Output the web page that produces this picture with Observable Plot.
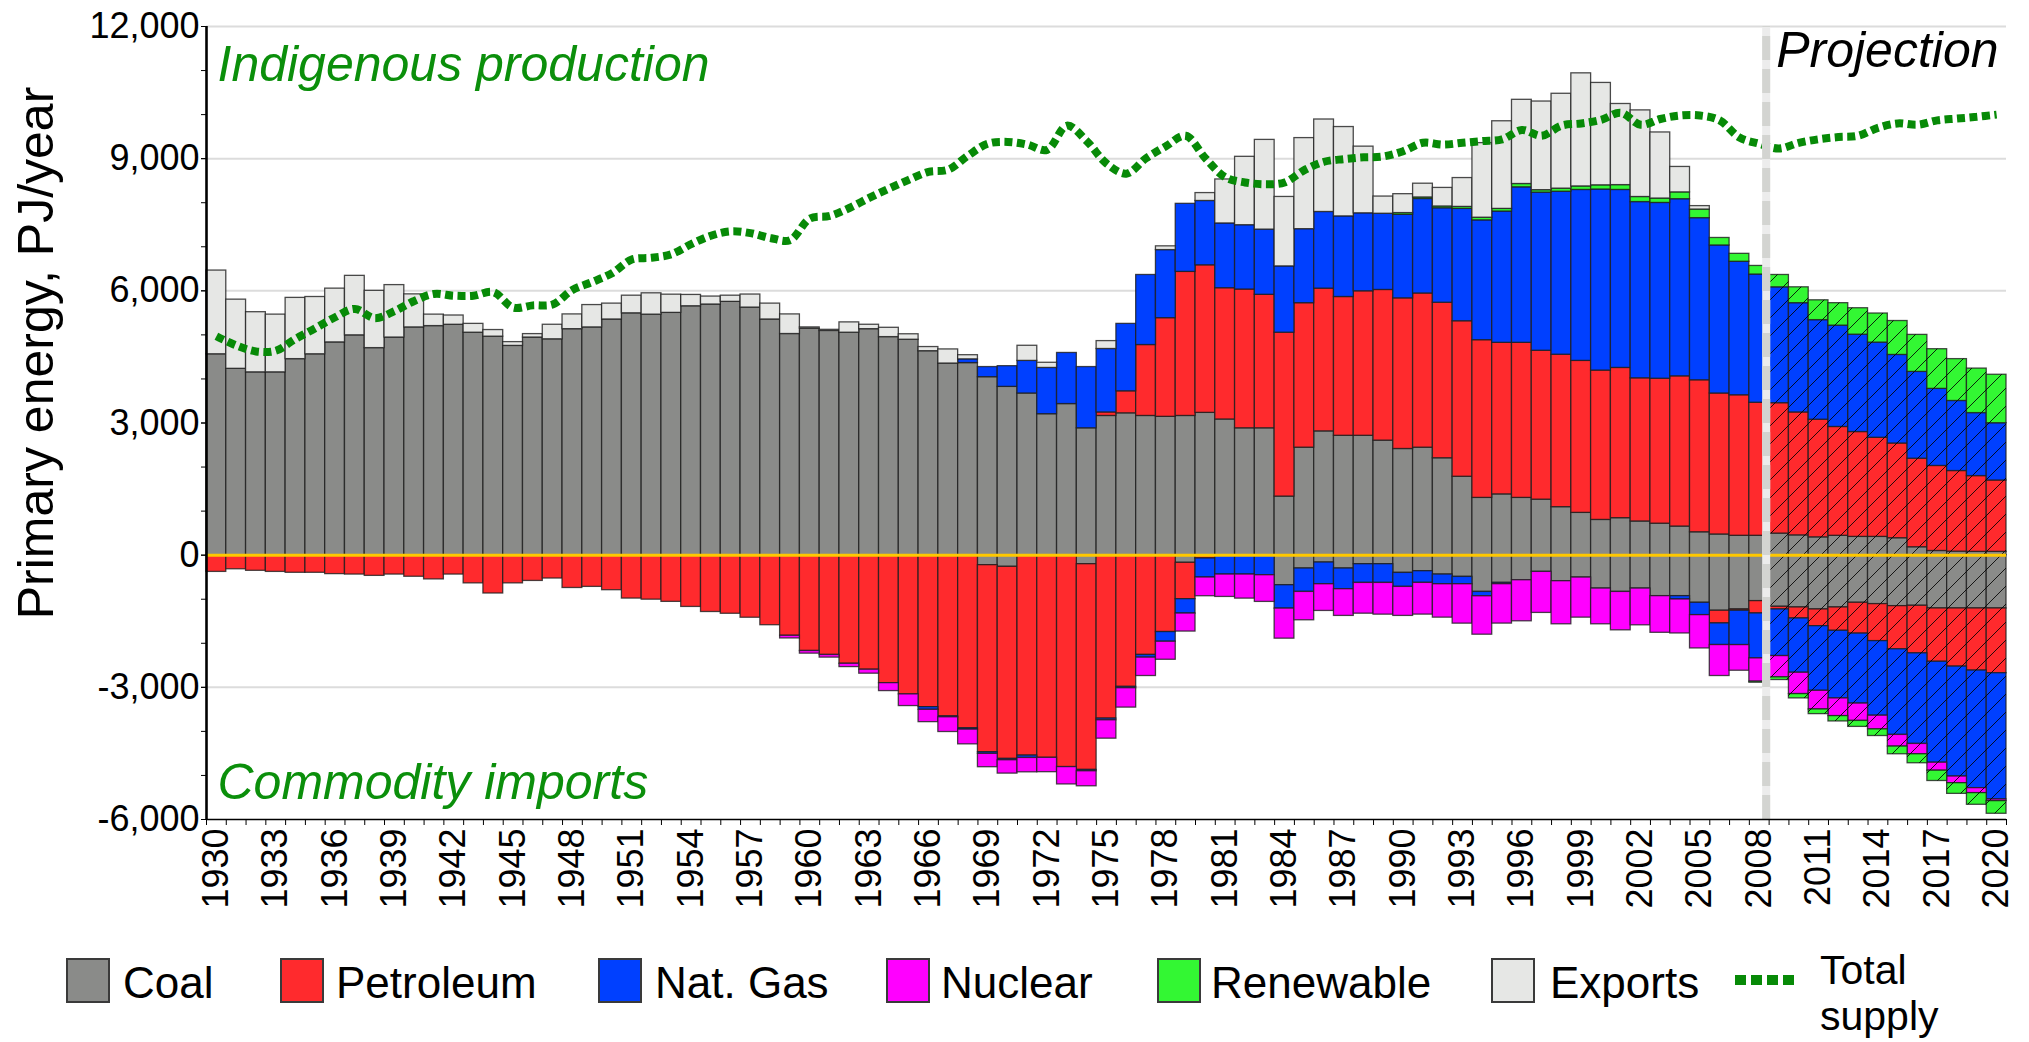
<!DOCTYPE html>
<html><head><meta charset="utf-8">
<script src="https://cdn.jsdelivr.net/npm/d3@7"></script>
<script src="https://cdn.jsdelivr.net/npm/@observablehq/plot@0.6"></script>
<style>
html,body{margin:0;padding:0;background:#fff;}
#wrap{position:relative;width:2029px;height:1042px;font-family:"Liberation Sans",Arial,sans-serif;overflow:hidden;}
#chart{position:absolute;left:0;top:0;}
.sw{position:absolute;box-sizing:border-box;border:2px solid #3a3a3a;}
.lt{position:absolute;font-size:44px;line-height:42px;color:#000;white-space:nowrap;}
.lt2{position:absolute;font-size:41px;line-height:46px;color:#000;white-space:nowrap;}
</style></head><body><div id="wrap"><div id="chart"></div></div>
<script>
// ---------- DATA (PJ/year), one value per year 1930..2020 ----------
const years = [1930,1931,1932,1933,1934,1935,1936,1937,1938,1939,1940,1941,1942,1943,1944,1945,1946,1947,1948,1949,
1950,1951,1952,1953,1954,1955,1956,1957,1958,1959,1960,1961,1962,1963,1964,1965,1966,1967,1968,1969,
1970,1971,1972,1973,1974,1975,1976,1977,1978,1979,1980,1981,1982,1983,1984,1985,1986,1987,1988,1989,
1990,1991,1992,1993,1994,1995,1996,1997,1998,1999,2000,2001,2002,2003,2004,2005,2006,2007,2008,2009,
2010,2011,2012,2013,2014,2015,2016,2017,2018,2019,2020];
const labelYears = [1930,1933,1936,1939,1942,1945,1948,1951,1954,1957,1960,1963,1966,1969,1972,1975,1978,1981,1984,1987,1990,1993,1996,1999,2002,2005,2008,2011,2014,2017,2020];
const yTicks = [-6000,-3000,0,3000,6000,9000,12000];
const yMinorTicks = [-6000,-5000,-4000,-3000,-2000,-1000,0,1000,2000,3000,4000,5000,6000,7000,8000,9000,10000,11000,12000];
const gridTicks = [-3000,3000,6000,9000,12000];
const projectionBoundary = 2008.35;

// Indigenous production (domestically used part)
const prodCoal = [4560,4230,4150,4150,4450,4560,4830,4990,4700,4940,5170,5200,5230,5050,4960,4750,4940,4900,5130,5170,
5350,5490,5460,5500,5650,5690,5750,5620,5350,5020,5140,5090,5050,5130,4950,4890,4630,4350,4360,4040,
3820,3670,3200,3430,2880,3160,3220,3160,3140,3160,3230,3080,2880,2880,1330,2440,2810,2710,2710,2600,
2410,2440,2200,1780,1300,1380,1300,1260,1090,960,800,840,765,715,650,520,470,440,440,490,
450,405,440,415,415,385,180,95,80,75,75];
const prodPetroleum = [0,0,0,0,0,0,0,0,0,0,0,0,0,0,0,0,0,0,0,0,
0,0,0,0,0,0,0,0,0,0,0,0,0,0,0,0,0,0,0,0,
0,0,0,0,0,80,500,1610,2240,3270,3350,2980,3150,3030,3720,3280,3240,3150,3280,3420,
3420,3500,3530,3530,3580,3440,3520,3380,3460,3450,3390,3410,3250,3290,3410,3450,3200,3190,3020,2960,
2790,2670,2470,2380,2250,2150,2010,1930,1830,1720,1620];
const prodGas = [0,0,0,0,0,0,0,0,0,0,0,0,0,0,0,0,0,0,0,0,
0,0,0,0,0,0,0,0,0,0,0,0,0,0,0,0,0,0,85,230,
470,740,1050,1160,1390,1440,1530,1590,1545,1545,1460,1470,1460,1480,1505,1680,1740,1830,1770,1730,
1895,2145,2145,2550,2720,2980,3530,3590,3700,3880,4110,4040,4000,3990,4020,3680,3360,3030,2910,2630,
2480,2260,2300,2210,2160,2010,1970,1750,1590,1430,1300];
const prodRenewable = [0,0,0,0,0,0,0,0,0,0,0,0,0,0,0,0,0,0,0,0,
0,0,0,0,0,0,0,0,0,0,0,0,0,0,0,0,0,0,0,0,
0,0,0,0,0,0,0,0,0,0,0,0,0,0,0,0,0,0,0,0,
40,35,40,45,60,60,75,55,70,80,95,110,115,100,155,195,170,180,195,280,
360,450,510,600,660,770,840,900,950,1010,1100];
const exportsPJ = [1900,1570,1365,1310,1390,1300,1220,1350,1300,1190,750,260,210,200,150,86,78,330,335,507,
360,400,484,413,257,180,140,296,360,445,30,25,234,100,211,124,94,320,94,0,
0,343,117,0,0,179,0,0,85,0,179,998,1552,2036,1576,2067,2099,2028,1513,390,
429,312,421,655,1693,1989,1911,2012,2153,2567,2324,1841,1966,1500,577,78,0,0,0,0,
0,0,0,0,0,0,0,0,0,0,0];

// Commodity imports (positive numbers, drawn below zero)
const impCoal = [0,0,0,0,0,0,0,0,0,0,0,0,0,0,0,0,0,0,0,0,
0,0,0,0,0,0,0,0,0,0,0,0,0,0,0,0,0,0,0,227,
265,0,0,0,205,0,0,0,0,174,0,0,0,0,682,303,167,303,205,205,
402,364,440,493,834,629,569,379,591,508,758,834,758,930,930,1081,1262,1232,1043,1172,
1187,1232,1187,1081,1111,1157,1149,1210,1210,1210,1210];
const impPetroleum = [380,320,355,380,400,400,430,440,470,440,490,550,440,640,870,640,585,530,745,720,
795,985,1010,1060,1175,1290,1330,1420,1590,1830,2175,2265,2465,2600,2905,3160,3450,3660,3930,4245,
4360,4550,4600,4810,4670,3710,2990,2265,1745,825,75,0,0,0,0,0,0,0,0,0,
0,0,0,0,0,0,0,0,0,0,0,0,0,0,0,0,287,30,280,60,
250,380,530,700,840,980,1080,1210,1320,1410,1470];
const impGas = [0,0,0,0,0,0,0,0,0,0,0,0,0,0,0,0,0,0,0,0,
0,0,0,0,0,0,0,0,0,0,0,0,0,0,0,0,60,20,30,38,
30,53,0,0,30,38,30,61,220,326,432,440,440,455,531,531,493,470,425,425,
318,265,220,167,99,30,0,0,0,0,0,0,0,0,76,280,491,779,1020,1058,
1232,1467,1535,1588,1693,1943,2056,2291,2495,2668,2865];
const impNuclear = [0,0,0,0,0,0,0,0,0,0,0,0,0,0,0,0,0,0,0,0,
0,0,0,0,0,0,0,0,0,60,60,60,75,90,180,265,280,334,334,303,
303,326,326,394,341,417,440,417,409,409,425,508,546,606,682,644,606,606,698,720,
659,720,758,894,872,894,932,932,978,910,811,872,834,832,771,756,703,582,529,484,
484,423,401,393,310,265,234,181,151,113,38];
const impRenewable = [0,0,0,0,0,0,0,0,0,0,0,0,0,0,0,0,0,0,0,0,
0,0,0,0,0,0,0,0,0,0,0,0,0,0,0,0,0,0,0,0,
0,0,0,0,0,0,0,0,0,0,0,0,0,0,0,0,0,0,0,0,
0,0,0,0,0,0,0,0,0,0,0,0,0,0,0,0,0,0,23,60,
98,106,121,136,151,174,204,234,242,265,287];

const totalSupply = [4970,4760,4625,4640,4910,5150,5400,5590,5380,5540,5770,5930,5890,5890,5970,5620,5670,5690,6020,6200,
6400,6710,6750,6830,7060,7250,7350,7310,7200,7150,7640,7700,7880,8110,8320,8520,8700,8750,9070,9340,
9380,9320,9200,9750,9400,8890,8660,9010,9280,9520,9010,8580,8460,8420,8460,8740,8930,8990,9030,9050,
9170,9360,9320,9360,9400,9440,9650,9520,9750,9800,9880,10040,9770,9900,9980,9980,9870,9480,9340,9230,
9360,9440,9490,9520,9700,9800,9770,9870,9910,9950,10000];

const commodities = ["Coal","Petroleum","Nat. Gas","Nuclear","Renewable","Exports"];
const commodityColors = ["#8a8b89","#ff2a2d","#0040ff","#ff00ff","#33f733","#e6e7e5"];

// ---------- BUILD TABLE ----------
const series = [
  {key:"prodCoal", commodity:"Coal", values:prodCoal, sign:1},
  {key:"prodPetroleum", commodity:"Petroleum", values:prodPetroleum, sign:1},
  {key:"prodGas", commodity:"Nat. Gas", values:prodGas, sign:1},
  {key:"prodRenewable", commodity:"Renewable", values:prodRenewable, sign:1},
  {key:"exports", commodity:"Exports", values:exportsPJ, sign:1},
  {key:"impCoal", commodity:"Coal", values:impCoal, sign:-1},
  {key:"impPetroleum", commodity:"Petroleum", values:impPetroleum, sign:-1},
  {key:"impGas", commodity:"Nat. Gas", values:impGas, sign:-1},
  {key:"impNuclear", commodity:"Nuclear", values:impNuclear, sign:-1},
  {key:"impRenewable", commodity:"Renewable", values:impRenewable, sign:-1}
];
const rows = [];
for (const s of series) years.forEach((yr, i) => {
  const v = s.values[i];
  if (v) rows.push({year: yr, key: s.key, commodity: s.commodity, value: s.sign * v});
});
const supplyRows = years.map((yr, i) => ({year: yr, value: totalSupply[i]}));
const boundaries = years.map(y => y - 0.5).concat([years[years.length - 1] + 0.5]);
const keyOrder = series.map(s => s.key);
const stackOpts = {x1: d => d.year - 0.5, x2: d => d.year + 0.5, y: "value", z: "key", order: keyOrder};
const fmt = d => d.toLocaleString("en-US");

const svg = Plot.plot({
  width: 2029, height: 930,
  marginLeft: 206, marginRight: 23, marginTop: 26, marginBottom: 111,
  style: {fontFamily: "'Liberation Sans', Arial, sans-serif", background: "white", overflow: "visible"},
  x: {domain: [boundaries[0], boundaries[boundaries.length - 1]], axis: null},
  y: {domain: [-6000, 12000], axis: null},
  color: {domain: commodities, range: commodityColors},
  marks: [
    Plot.gridY(gridTicks, {stroke: "#dcdcdc", strokeOpacity: 1, strokeWidth: 2}),
    Plot.rectY(rows, {...stackOpts, fill: "commodity", stroke: "#1e1e1e", strokeWidth: 1.3, strokeOpacity: 0.8}),
    Plot.rectY(rows.filter(d => d.year > projectionBoundary), {...stackOpts, fill: "url(#hatch)"}),
    Plot.ruleY([0], {stroke: "#ffc800", strokeWidth: 3}),
    Plot.line(supplyRows, {x: "year", y: "value", curve: "catmull-rom", stroke: "#078a07", strokeWidth: 8, strokeDasharray: "8,4.5", strokeLinecap: "butt", strokeLinejoin: "miter"}),
    Plot.ruleX([projectionBoundary], {y1: -6000, y2: 12000, stroke: "#ececec", strokeWidth: 8}),
    Plot.ruleX([projectionBoundary], {y1: -6000, y2: 12000, stroke: "#d3d4d1", strokeWidth: 8, strokeDasharray: "24,9"}),
    Plot.ruleY([-6000], {stroke: "#000", strokeWidth: 1.6}),
    Plot.ruleX([boundaries[0]], {y1: -6000, y2: 12000, stroke: "#000", strokeWidth: 2.6}),
    Plot.axisY({ticks: yMinorTicks, tickSize: 5, tickFormat: () => "", label: null}),
    Plot.axisY({ticks: yTicks, tickSize: 5, tickPadding: 2, tickFormat: fmt, fontSize: 36, label: null}),
    Plot.axisX({ticks: boundaries, tickSize: 6, tickFormat: () => "", label: null}),
    Plot.axisX({ticks: labelYears, tickSize: 0, tickPadding: 9, tickRotate: -90, tickFormat: d => String(d), fontSize: 36, label: null}),
    Plot.text(["Primary energy, PJ/year"], {frameAnchor: "left", lineAnchor: "middle", rotate: -90, dx: -170, dy: -70, fontSize: 50, textAnchor: "middle"}),
    Plot.text(["Indigenous production"], {frameAnchor: "top-left", lineAnchor: "middle", dx: 11, dy: 38, fontSize: 50, fontStyle: "italic", fill: "#0b8f0b", textAnchor: "start"}),
    Plot.text(["Commodity imports"], {frameAnchor: "bottom-left", lineAnchor: "middle", dx: 11, dy: -37, fontSize: 50, fontStyle: "italic", fill: "#0b8f0b", textAnchor: "start"}),
    Plot.text(["Projection"], {frameAnchor: "top-right", lineAnchor: "middle", dx: -8, dy: 24, fontSize: 50, fontStyle: "italic", fill: "#000", textAnchor: "end"})
  ]
});

const defs = d3.select(svg).insert("defs", ":first-child");
const pat = defs.append("pattern").attr("id", "hatch").attr("patternUnits", "userSpaceOnUse").attr("width", 18).attr("height", 18);
pat.append("path").attr("d", "M0,18L18,0M-4,4L4,-4M14,22L22,14").attr("stroke", "#000").attr("stroke-width", 1).attr("stroke-opacity", 0.85).attr("fill", "none");
document.getElementById("chart").appendChild(svg);

// ---------- LEGEND ----------
const legendLayout = [
  {label: "Coal", sw: 66, tx: 123},
  {label: "Petroleum", sw: 280, tx: 336},
  {label: "Nat. Gas", sw: 598, tx: 655},
  {label: "Nuclear", sw: 886, tx: 941},
  {label: "Renewable", sw: 1157, tx: 1211},
  {label: "Exports", sw: 1491, tx: 1550}
];
const wrap = document.getElementById("wrap");
legendLayout.forEach((it) => {
  const s = document.createElement("div");
  s.className = "sw";
  s.style.left = it.sw + "px"; s.style.top = "958px"; s.style.width = "44px"; s.style.height = "45px";
  s.style.background = commodityColors[commodities.indexOf(it.label)];
  wrap.appendChild(s);
  const t = document.createElement("div");
  t.className = "lt"; t.textContent = it.label;
  t.style.left = it.tx + "px"; t.style.top = "962px";
  wrap.appendChild(t);
});
const ls = document.createElementNS("http://www.w3.org/2000/svg", "svg");
ls.setAttribute("width", 64); ls.setAttribute("height", 20);
ls.style.position = "absolute"; ls.style.left = "1735px"; ls.style.top = "970px";
ls.innerHTML = '<line x1="0" y1="10" x2="62" y2="10" stroke="#078a07" stroke-width="10" stroke-dasharray="11,5"/>';
wrap.appendChild(ls);
["Total", "supply"].forEach((w, i) => {
  const tl = document.createElement("div");
  tl.className = "lt2"; tl.textContent = w;
  tl.style.left = "1820px"; tl.style.top = (947 + i * 46) + "px";
  wrap.appendChild(tl);
});
</script></body></html>
